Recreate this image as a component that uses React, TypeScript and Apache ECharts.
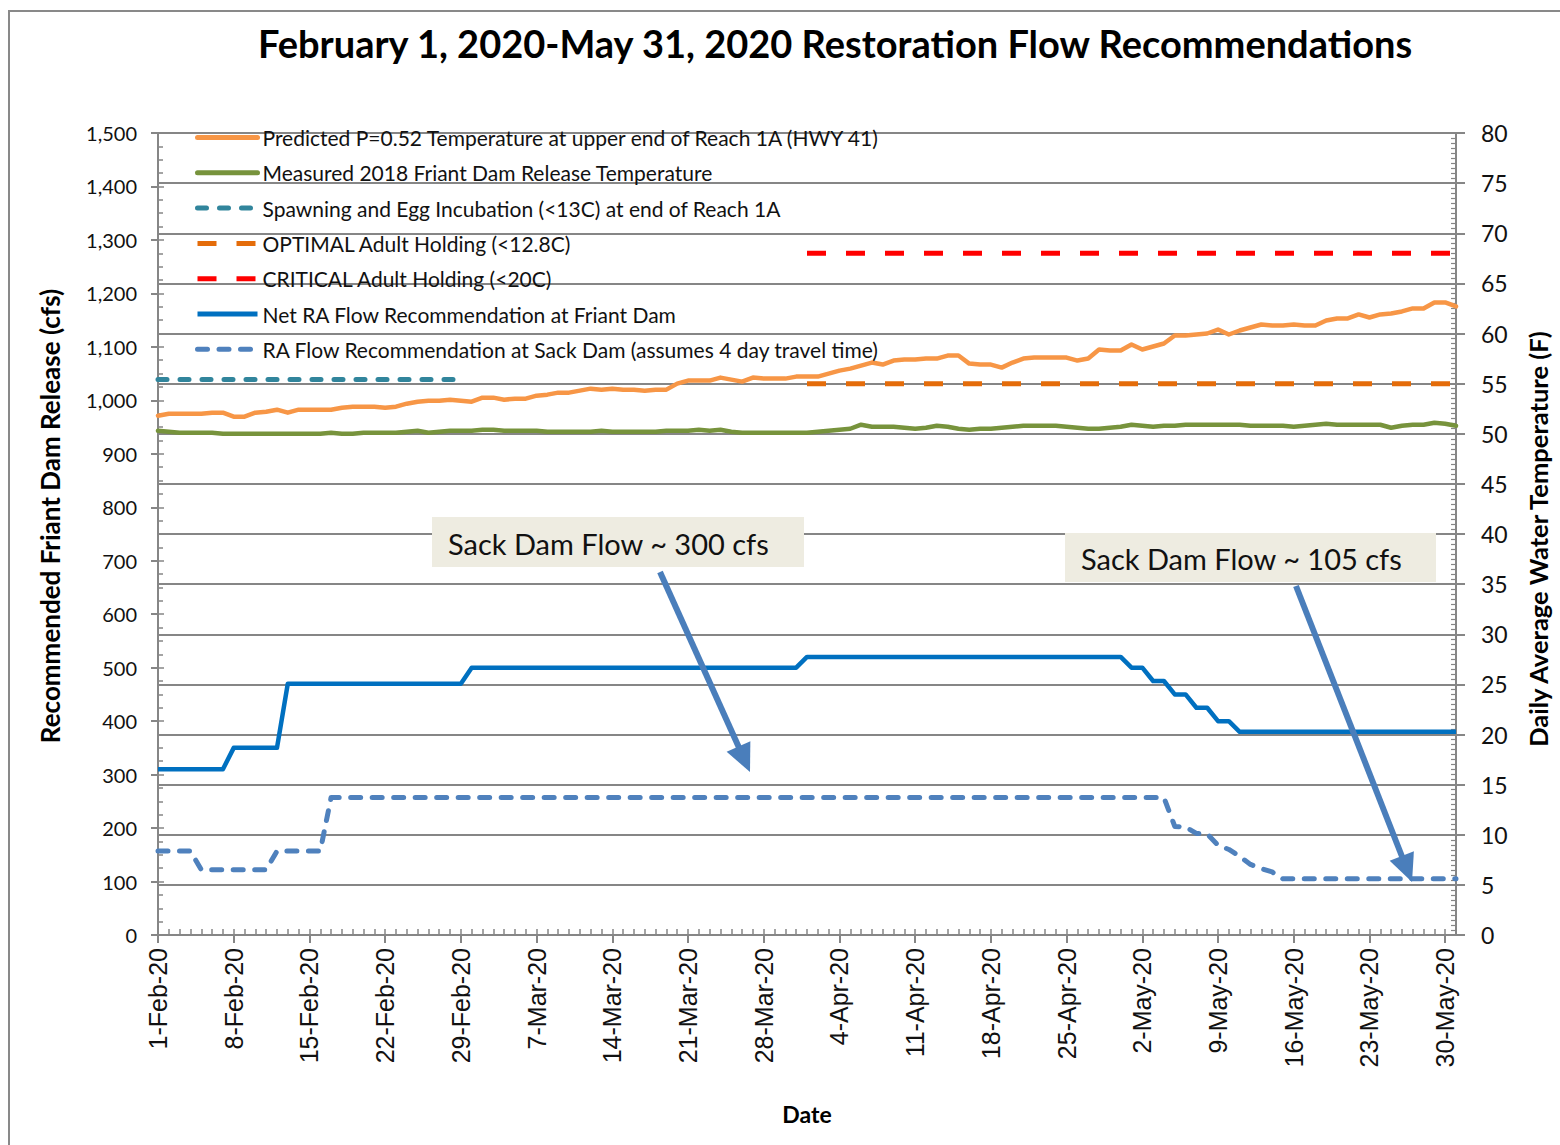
import React, { useEffect, useRef } from "react";
import * as echarts from "echarts";

// ---------- categories ----------
const MONTH_NAMES = ["Jan", "Feb", "Mar", "Apr", "May", "Jun"];
const MONTH_DAYS = [31, 29, 31, 30, 31, 30];
function buildDates(): string[] {
  const out: string[] = [];
  let m = 1;
  let d = 1;
  for (let i = 0; i < 121; i++) {
    out.push(`${d}-${MONTH_NAMES[m]}-20`);
    d++;
    if (d > MONTH_DAYS[m]) { d = 1; m++; }
  }
  return out;
}
const DATES = buildDates();

// ---------- tick settings ----------
const FLOW_TICKS = { min: 0, max: 1500, interval: 100 };
const TEMP_TICKS = { min: 0, max: 80, interval: 5 };

// ---------- series values ----------
const PREDICTED_TEMP = [
  51.8, 52.0, 52.0, 52.0, 52.0, 52.1, 52.1, 51.7, 51.7, 52.1,
  52.2, 52.4, 52.1, 52.4, 52.4, 52.4, 52.4, 52.6, 52.7, 52.7,
  52.7, 52.6, 52.7, 53.0, 53.2, 53.3, 53.3, 53.4, 53.3, 53.2,
  53.6, 53.6, 53.4, 53.5, 53.5, 53.8, 53.9, 54.1, 54.1, 54.3,
  54.5, 54.4, 54.5, 54.4, 54.4, 54.3, 54.4, 54.4, 55.0, 55.3,
  55.3, 55.3, 55.6, 55.4, 55.2, 55.6, 55.5, 55.5, 55.5, 55.7,
  55.7, 55.7, 56.0, 56.3, 56.5, 56.8, 57.1, 56.9, 57.3, 57.4,
  57.4, 57.5, 57.5, 57.8, 57.8, 57.0, 56.9, 56.9, 56.6, 57.1,
  57.5, 57.6, 57.6, 57.6, 57.6, 57.3, 57.5, 58.4, 58.3, 58.3,
  58.9, 58.4, 58.7, 59.0, 59.8, 59.8, 59.9, 60.0, 60.4, 59.9,
  60.3, 60.6, 60.9, 60.8, 60.8, 60.9, 60.8, 60.8, 61.3, 61.5,
  61.5, 61.9, 61.6, 61.9, 62.0, 62.2, 62.5, 62.5, 63.1, 63.1,
  62.7,
];

const MEASURED_TEMP = [
  50.3, 50.2, 50.1, 50.1, 50.1, 50.1, 50.0, 50.0, 50.0, 50.0,
  50.0, 50.0, 50.0, 50.0, 50.0, 50.0, 50.1, 50.0, 50.0, 50.1,
  50.1, 50.1, 50.1, 50.2, 50.3, 50.1, 50.2, 50.3, 50.3, 50.3,
  50.4, 50.4, 50.3, 50.3, 50.3, 50.3, 50.2, 50.2, 50.2, 50.2,
  50.2, 50.3, 50.2, 50.2, 50.2, 50.2, 50.2, 50.3, 50.3, 50.3,
  50.4, 50.3, 50.4, 50.2, 50.1, 50.1, 50.1, 50.1, 50.1, 50.1,
  50.1, 50.2, 50.3, 50.4, 50.5, 50.9, 50.7, 50.7, 50.7, 50.6,
  50.5, 50.6, 50.8, 50.7, 50.5, 50.4, 50.5, 50.5, 50.6, 50.7,
  50.8, 50.8, 50.8, 50.8, 50.7, 50.6, 50.5, 50.5, 50.6, 50.7,
  50.9, 50.8, 50.7, 50.8, 50.8, 50.9, 50.9, 50.9, 50.9, 50.9,
  50.9, 50.8, 50.8, 50.8, 50.8, 50.7, 50.8, 50.9, 51.0, 50.9,
  50.9, 50.9, 50.9, 50.9, 50.6, 50.8, 50.9, 50.9, 51.1, 51.0,
  50.8,
];

// threshold lines: [first date, last date] and level (deg F)
const SPAWNING_RANGE = ["1-Feb-20", "29-Feb-20"];
const SPAWNING_LEVEL = 55.4;
const OPTIMAL_RANGE = ["1-Apr-20", "31-May-20"];
const OPTIMAL_LEVEL = 55.0;
const CRITICAL_RANGE = ["1-Apr-20", "31-May-20"];
const CRITICAL_LEVEL = 68.0;

const FRIANT_FLOW = [
  310, 310, 310, 310, 310, 310, 310, 350, 350, 350,
  350, 350, 470, 470, 470, 470, 470, 470, 470, 470,
  470, 470, 470, 470, 470, 470, 470, 470, 470, 500,
  500, 500, 500, 500, 500, 500, 500, 500, 500, 500,
  500, 500, 500, 500, 500, 500, 500, 500, 500, 500,
  500, 500, 500, 500, 500, 500, 500, 500, 500, 500,
  520, 520, 520, 520, 520, 520, 520, 520, 520, 520,
  520, 520, 520, 520, 520, 520, 520, 520, 520, 520,
  520, 520, 520, 520, 520, 520, 520, 520, 520, 520,
  500, 500, 475, 475, 450, 450, 425, 425, 400, 400,
  380, 380, 380, 380, 380, 380, 380, 380, 380, 380,
  380, 380, 380, 380, 380, 380, 380, 380, 380, 380,
  380,
];

const SACK_FLOW = [
  157, 157, 157, 157, 122, 122, 122, 122, 122, 122,
  122, 157, 157, 157, 157, 157, 257, 257, 257, 257,
  257, 257, 257, 257, 257, 257, 257, 257, 257, 257,
  257, 257, 257, 257, 257, 257, 257, 257, 257, 257,
  257, 257, 257, 257, 257, 257, 257, 257, 257, 257,
  257, 257, 257, 257, 257, 257, 257, 257, 257, 257,
  257, 257, 257, 257, 257, 257, 257, 257, 257, 257,
  257, 257, 257, 257, 257, 257, 257, 257, 257, 257,
  257, 257, 257, 257, 257, 257, 257, 257, 257, 257,
  257, 257, 257, 257, 203, 202, 190, 189, 168, 160,
  147, 132, 124, 118, 105, 105, 105, 105, 105, 105,
  105, 105, 105, 105, 105, 105, 105, 105, 105, 105,
  105,
];

const SERIES_NAMES = [
  "Predicted P=0.52 Temperature at upper end of Reach 1A (HWY 41)",
  "Measured 2018 Friant Dam Release Temperature",
  "Spawning and Egg Incubation (<13C) at end of Reach 1A",
  "OPTIMAL Adult Holding (<12.8C)",
  "CRITICAL Adult Holding (<20C)",
  "Net RA Flow Recommendation at Friant Dam",
  "RA Flow Recommendation at Sack Dam (assumes 4 day travel time)",
];

const TITLE = "February 1, 2020-May 31, 2020 Restoration Flow Recommendations";
const LEFT_AXIS_NAME = "Recommended Friant Dam Release (cfs)";
const RIGHT_AXIS_NAME = "Daily Average Water Temperature (F)";
const X_AXIS_NAME = "Date";
const NOTE_1 = "Sack Dam Flow ~ 300 cfs";
const NOTE_2 = "Sack Dam Flow ~ 105 cfs";

const AXIS_GRAY = "#868686";
const FONT = "Lato, 'Noto Sans', sans-serif";

function arrow(x1: number, y1: number, x2: number, y2: number, color: string) {
  const dx = x2 - x1;
  const dy = y2 - y1;
  const L = Math.hypot(dx, dy);
  const ux = dx / L;
  const uy = dy / L;
  const headLen = 28;
  const headW = 13;
  const bx = x2 - ux * headLen;
  const by = y2 - uy * headLen;
  const px = -uy;
  const py = ux;
  return [
    {
      type: "line",
      z: 100,
      shape: { x1, y1, x2: bx + ux * 3, y2: by + uy * 3 },
      style: { stroke: color, lineWidth: 6 },
    },
    {
      type: "polygon",
      z: 100,
      shape: {
        points: [
          [x2, y2],
          [bx + px * headW, by + py * headW],
          [bx - px * headW, by - py * headW],
        ],
      },
      style: { fill: color },
    },
  ];
}

function noteBox(x: number, y: number, w: number, h: number, text: string) {
  return [
    { type: "rect", z: 90, shape: { x, y, width: w, height: h }, style: { fill: "#eeece1" } },
    {
      type: "text",
      z: 91,
      x: x + 16,
      y: y + h / 2 + 1,
      style: {
        text,
        fill: "#111",
        font: `29px ${FONT}`,
        verticalAlign: "middle",
        align: "left",
      },
    },
  ];
}

function axisTitle(x: number, y: number, text: string, size: number) {
  return {
    type: "text",
    z: 50,
    x,
    y,
    rotation: Math.PI / 2,
    style: {
      text,
      fill: "#000",
      font: `bold ${size}px ${FONT}`,
      align: "center",
      verticalAlign: "middle",
    },
  };
}

export default function App() {
  const ref = useRef<HTMLDivElement>(null);

  useEffect(() => {
    document.body.style.margin = "0";
    if (!ref.current) return;
    const chart = echarts.init(ref.current, undefined, { renderer: "svg" });

    const tempLine = (name: string, data: any[], color: string) => ({
      name,
      type: "line",
      xAxisIndex: 0,
      yAxisIndex: 2,
      data,
      symbol: "none",
      lineStyle: { color, width: 4.5, cap: "round", join: "round" },
      itemStyle: { color },
    });
    const levelLine = (
      name: string,
      range: string[],
      level: number,
      color: string,
      dash: number[],
      cap: string
    ) => ({
      name,
      type: "line",
      xAxisIndex: 0,
      yAxisIndex: 2,
      data: [
        [range[0], level],
        [range[1], level],
      ],
      symbol: "none",
      lineStyle: { color, width: 5, type: dash, cap },
      itemStyle: { color },
    });

    const option: any = {
      animation: false,
      backgroundColor: "#ffffff",
      title: {
        text: TITLE,
        left: 830,
        top: 19,
        textAlign: "center",
        textStyle: { fontFamily: FONT, fontWeight: "bold", fontSize: 38, color: "#000" },
      },
      legend: {
        orient: "vertical",
        left: 195,
        top: 127,
        padding: 0,
        itemWidth: 60,
        itemHeight: 14,
        itemGap: 14.3,
        data: SERIES_NAMES,
        itemStyle: { opacity: 0 },
        lineStyle: { width: 5 },
        textStyle: { fontFamily: FONT, fontSize: 21, lineHeight: 20, color: "#111" },
        selectedMode: false,
      },
      grid: { left: 158, right: 104, top: 133, bottom: 210, containLabel: false },
      xAxis: [
        {
          type: "category",
          data: DATES,
          boundaryGap: false,
          position: "bottom",
          name: X_AXIS_NAME,
          nameLocation: "middle",
          nameGap: 167,
          nameTextStyle: { fontFamily: FONT, fontWeight: "bold", fontSize: 23, color: "#000" },
          axisLine: { show: true, lineStyle: { color: AXIS_GRAY, width: 2 } },
          axisTick: { show: true, interval: 6, length: 8, lineStyle: { color: AXIS_GRAY, width: 2 } },
          axisLabel: {
            interval: 6,
            rotate: 90,
            margin: 13,
            fontFamily: "'Liberation Sans', Arial, sans-serif",
            fontSize: 25,
            color: "#111",
          },
          splitLine: { show: false },
        },
        {
          type: "category",
          data: DATES,
          boundaryGap: false,
          position: "bottom",
          axisLine: { show: false },
          axisTick: { show: true, inside: true, interval: 0, length: 6, lineStyle: { color: AXIS_GRAY, width: 1.5 } },
          axisLabel: { show: false },
          splitLine: { show: false },
        },
      ],
      yAxis: [
        {
          type: "value",
          position: "left",
          ...FLOW_TICKS,
          axisLine: { show: true, lineStyle: { color: AXIS_GRAY, width: 2 } },
          axisTick: { show: true, length: 7, lineStyle: { color: AXIS_GRAY, width: 2 } },
          axisLabel: {
            margin: 21,
            fontFamily: FONT,
            fontSize: 20,
            color: "#111",
            formatter: (v: number) => v.toLocaleString("en-US"),
          },
          splitLine: { show: false },
        },
        {
          type: "value",
          position: "left",
          ...FLOW_TICKS,
          axisLine: { show: false },
          axisTick: { show: true, inside: true, length: 6, lineStyle: { color: AXIS_GRAY, width: 1.5 } },
          minorTick: { show: true, splitNumber: 4, length: 5, lineStyle: { color: AXIS_GRAY, width: 1.5 } },
          axisLabel: { show: false },
          splitLine: { show: false },
        },
        {
          type: "value",
          position: "right",
          ...TEMP_TICKS,
          axisLine: { show: true, lineStyle: { color: AXIS_GRAY, width: 2 } },
          axisTick: { show: true, length: 9, lineStyle: { color: AXIS_GRAY, width: 2 } },
          axisLabel: { margin: 25, fontFamily: FONT, fontSize: 23, color: "#111" },
          splitLine: { show: true, lineStyle: { color: AXIS_GRAY, width: 2 } },
        },
        {
          type: "value",
          position: "right",
          ...TEMP_TICKS,
          axisLine: { show: false },
          axisTick: { show: true, inside: true, length: 6, lineStyle: { color: AXIS_GRAY, width: 1.5 } },
          minorTick: { show: true, splitNumber: 10, length: 5, lineStyle: { color: AXIS_GRAY, width: 1.2 } },
          axisLabel: { show: false },
          splitLine: { show: false },
        },
      ],
      series: [
        tempLine(SERIES_NAMES[0], PREDICTED_TEMP, "#f79646"),
        tempLine(SERIES_NAMES[1], MEASURED_TEMP, "#77933c"),
        levelLine(SERIES_NAMES[2], SPAWNING_RANGE, SPAWNING_LEVEL, "#31859c", [9, 13], "round"),
        levelLine(SERIES_NAMES[3], OPTIMAL_RANGE, OPTIMAL_LEVEL, "#e46c0a", [19, 20], "butt"),
        levelLine(SERIES_NAMES[4], CRITICAL_RANGE, CRITICAL_LEVEL, "#ff0000", [19, 20], "butt"),
        {
          name: SERIES_NAMES[5],
          type: "line",
          xAxisIndex: 0,
          yAxisIndex: 0,
          data: FRIANT_FLOW,
          symbol: "none",
          lineStyle: { color: "#0070c0", width: 4.5, join: "round" },
          itemStyle: { color: "#0070c0" },
        },
        {
          name: SERIES_NAMES[6],
          type: "line",
          xAxisIndex: 0,
          yAxisIndex: 0,
          data: SACK_FLOW,
          symbol: "none",
          lineStyle: { color: "#4f81bd", width: 5, type: [10, 11.5], cap: "round", join: "round" },
          itemStyle: { color: "#4f81bd" },
        },
      ],
      graphic: [
        {
          type: "rect",
          z: -10,
          silent: true,
          shape: { x: 9, y: 11, width: 1700, height: 1300 },
          style: { fill: "none", stroke: "#898989", lineWidth: 2 },
        },
        axisTitle(50, 516, LEFT_AXIS_NAME, 26),
        axisTitle(1538, 539, RIGHT_AXIS_NAME, 25.5),
        ...noteBox(432, 517, 372, 50, NOTE_1),
        ...noteBox(1065, 533, 371, 49, NOTE_2),
        ...arrow(660, 572, 750, 772, "#4a7ebb"),
        ...arrow(1296, 586, 1412, 882, "#4a7ebb"),
      ],
    };

    chart.setOption(option);
    return () => chart.dispose();
  }, []);

  return (
    <div
      ref={ref}
      style={{ position: "absolute", left: 0, top: 0, width: 1560, height: 1145, background: "#fff" }}
    />
  );
}
